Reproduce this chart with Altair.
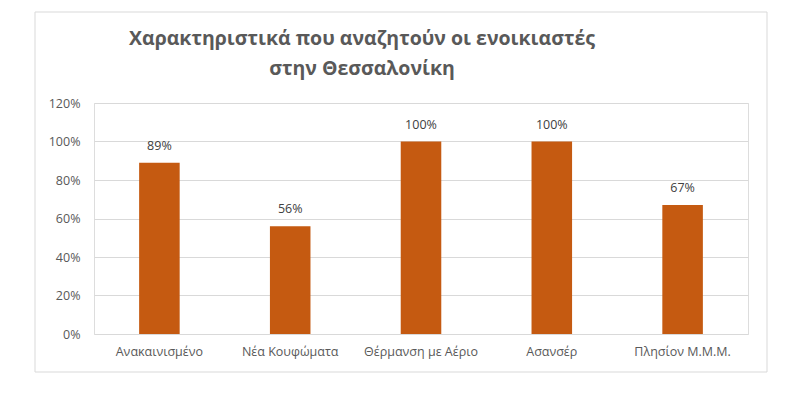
import altair as alt
import pandas as pd

categories = ["Ανακαινισμένο", "Νέα Κουφώματα", "Θέρμανση με Αέριο", "Ασανσέρ", "Πλησίον Μ.Μ.Μ."]
values = [0.89, 0.56, 1.00, 1.00, 0.67]
title_lines = ["Χαρακτηριστικά που αναζητούν οι ενοικιαστές", "στην Θεσσαλονίκη"]
y_ticks = [0, 0.2, 0.4, 0.6, 0.8, 1.0, 1.2]

df = pd.DataFrame({"cat": categories, "val": values})

FONT = "Open Sans"
AXIS_GRAY = "#595959"

x_enc = alt.X(
    "cat:N",
    sort=categories,
    scale=alt.Scale(paddingInner=0.69, paddingOuter=0.345),
    axis=alt.Axis(
        title=None, labelAngle=0, domain=False, ticks=False,
        labelPadding=11, labelFont=FONT, labelFontSize=12.5, labelColor=AXIS_GRAY,
    ),
)
y_enc = alt.Y(
    "val:Q",
    scale=alt.Scale(domain=[0, 1.2], nice=False),
    axis=alt.Axis(
        title=None, values=y_ticks, format=".0%", domain=False, ticks=False,
        labelOverlap=False,
        labelPadding=14, labelFont=FONT, labelFontSize=12.5, labelColor=AXIS_GRAY,
        gridColor="#d9d9d9", gridWidth=1,
    ),
)

border = alt.Chart(pd.DataFrame({"a": [0]})).mark_rect(
    fill="white", fillOpacity=0, stroke="#d9d9d9", strokeWidth=1, clip=False
).encode(
    x=alt.value(-59), x2=alt.value(673), y=alt.value(-91), y2=alt.value(269)
)

base = alt.Chart(df).encode(x=x_enc, y=y_enc)

bars = base.mark_bar(color="#C55A11")

labels = base.mark_text(
    dy=-10, baseline="bottom", font=FONT, fontSize=12.5, color="#404040"
).encode(
    text=alt.Text("val:Q", format=".0%"),
)

chart = alt.layer(border, bars, labels).properties(
    width=654,
    height=231,
    autosize=alt.AutoSizeParams(type="none"),
    padding={"left": 86, "top": 95, "right": 45, "bottom": 53},
    title=alt.TitleParams(
        text=title_lines,
        anchor="middle",
        frame="group",
        dx=-59,
        dy=87,
        offset=0,
        baseline="bottom",
        font=FONT,
        fontSize=19.5,
        fontWeight="bold",
        color=AXIS_GRAY,
        lineHeight=30,
    ),
).configure_view(stroke=None).configure(background="white")

chart.save("out.html", embed_options={"renderer": "svg", "actions": False})
